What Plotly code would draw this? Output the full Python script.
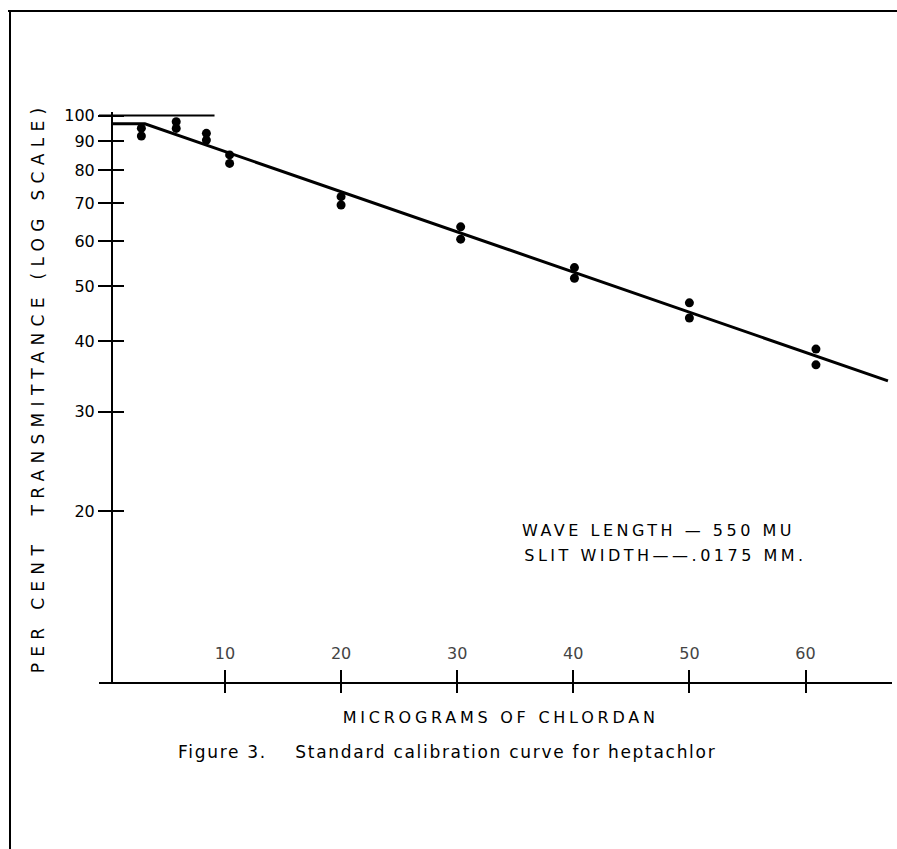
import plotly.graph_objects as go

# Data
micrograms = [2.8, 2.8, 5.8, 5.8, 8.4, 8.4, 10.4, 10.4,
              20.0, 20.0, 30.3, 30.3, 40.1, 40.1, 50.0, 50.0, 60.9, 60.9]
transmittance = [95.0, 92.0, 97.5, 94.9, 93.0, 90.5, 85.2, 82.3,
                 71.9, 69.5, 63.6, 60.5, 53.9, 51.6, 46.7, 43.9, 38.7, 36.3]

fit_x = [0.25, 3.1, 67.1]
fit_y = [96.7, 96.7, 34.0]

ref_x = [-0.85, 9.1]
ref_y = [100, 100]

x_ticks = [10, 20, 30, 40, 50, 60]
y_ticks = [10, 20, 30, 40, 50, 60, 70, 80, 90, 100]
y_tick_text = [str(v) for v in y_ticks]

W, H = 897, 849
L, R, T, B = 99, 5, 112, 167
PW, PH = W - L - R, H - T - B

def px_x(px):
    return (px - L) / PW

def px_y(py):
    return (H - B - py) / PH

font = "DejaVu Sans"

fig = go.Figure()
fig.add_trace(go.Scatter(x=ref_x, y=ref_y, mode="lines",
                         line=dict(color="black", width=2), showlegend=False))
fig.add_trace(go.Scatter(x=fit_x, y=fit_y, mode="lines",
                         line=dict(color="black", width=3), showlegend=False))
fig.add_trace(go.Scatter(x=micrograms, y=transmittance, mode="markers",
                         marker=dict(color="black", size=9), showlegend=False))

yax_pos = px_x(112)

fig.update_layout(
    width=W, height=H,
    margin=dict(l=L, r=R, t=T, b=B, pad=0),
    paper_bgcolor="white", plot_bgcolor="white",
    font=dict(family=font, color="black", size=15),
    xaxis=dict(range=[-0.85, 67.45], tickvals=x_ticks, ticks="outside",
               ticklen=9, tickwidth=2, tickcolor="black",
               ticklabelposition="inside", ticklabelstandoff=20,
               tickfont=dict(size=16),
               showline=True, linewidth=2, linecolor="black",
               showgrid=False, zeroline=False, anchor="y"),
    xaxis2=dict(range=[-0.85, 67.45], overlaying="x", tickvals=x_ticks,
                ticks="inside", ticklen=12, tickwidth=2, tickcolor="black",
                showticklabels=False, showline=False, showgrid=False,
                zeroline=False, anchor="y", side="bottom"),
    yaxis=dict(type="log", range=[1, 2.0062], tickvals=y_ticks,
               ticktext=y_tick_text, ticks="outside", ticklen=13,
               tickwidth=2, tickcolor="black", showline=True, linewidth=2,
               linecolor="black", showgrid=False, zeroline=False,
               anchor="free", position=yax_pos, tickfont=dict(size=16)),
    yaxis2=dict(type="log", range=[1, 2.0062], tickvals=y_ticks[1:],
                overlaying="y", ticks="inside", ticklen=11, tickwidth=2,
                tickcolor="black", showticklabels=False, showline=False,
                showgrid=False, zeroline=False, anchor="free",
                position=yax_pos),
)
fig.add_trace(go.Scatter(x=[None], y=[None], xaxis="x2", yaxis="y2",
                         showlegend=False))

annos = [
    dict(text="PER CENT  TRANSMITTANCE (LOG SCALE)", x=px_x(38), y=px_y(388),
         textangle=-90, font=dict(size=17, family=font)),
    dict(text="MICROGRAMS OF CHLORDAN", x=px_x(500), y=px_y(717),
         font=dict(size=16, family=font)),
    dict(text="Figure 3.&nbsp;&nbsp;&nbsp; Standard calibration curve for heptachlor",
         x=px_x(447), y=px_y(752), font=dict(size=17, family=font)),
    dict(text="WAVE LENGTH — 550 MU", x=px_x(658), y=px_y(530),
         font=dict(size=16, family=font)),
    dict(text="SLIT WIDTH——.0175 MM.", x=px_x(665), y=px_y(555),
         font=dict(size=16, family=font)),
]
for a in annos:
    fig.add_annotation(xref="paper", yref="paper", showarrow=False,
                       xanchor="center", yanchor="middle", **a)

fig.add_shape(type="line", xref="paper", yref="paper",
              x0=px_x(8), x1=px_x(897), y0=px_y(11), y1=px_y(11),
              line=dict(color="black", width=2))
fig.add_shape(type="line", xref="paper", yref="paper",
              x0=px_x(10), x1=px_x(10), y0=px_y(11), y1=px_y(849),
              line=dict(color="black", width=2))

spacing = [6.3, 3.75, 1.7, 3.5, 3.5]
post = """
document.body.style.margin = '0';
var gd = document.getElementById('{plot_id}');
var sp = %s;
gd.querySelectorAll('g.annotation').forEach(function(g) {
  var i = parseInt(g.getAttribute('data-index'));
  var t = g.querySelector('.annotation-text');
  if (t && !isNaN(i) && i < sp.length) { t.style.letterSpacing = sp[i] + 'px'; }
});
""" % str(spacing)

fig.write_html("out.html", post_script=post,
               config={"displayModeBar": False})
